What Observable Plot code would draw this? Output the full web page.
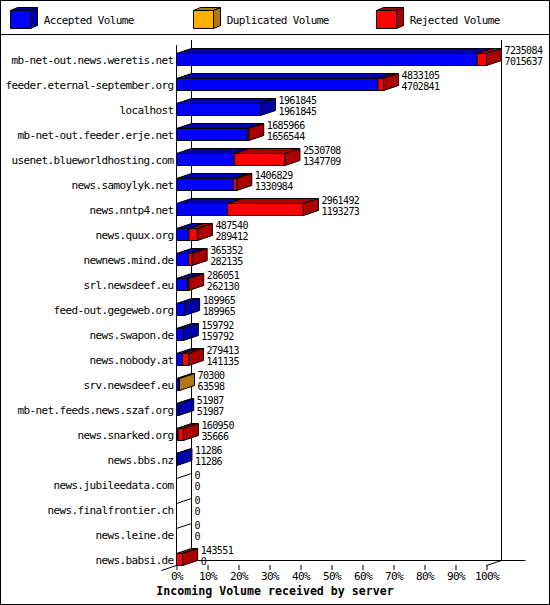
<!DOCTYPE html>
<html>
<head>
<meta charset="utf-8">
<script src="https://cdn.jsdelivr.net/npm/d3@7"></script>
<script src="https://cdn.jsdelivr.net/npm/@observablehq/plot@0.6"></script>
<style>
  html, body { margin: 0; padding: 0; background: #fff; }
  #wrap { position: relative; width: 550px; height: 605px; overflow: hidden; font-family: "DejaVu Sans Mono", monospace; }
  #frame { position: absolute; left: 0; top: 0; width: 550px; height: 605px; box-sizing: border-box; border: 1px solid #000; pointer-events: none; z-index: 5; }
  #legend { position: absolute; left: 0; top: 0; }
  #sep { position: absolute; left: 0; top: 34px; width: 550px; height: 1px; background: #000; }
  #chart { position: absolute; left: 1px; top: 35px; }
  #chart text { letter-spacing: -0.62px; }
  #caption { position: absolute; left: 0; top: 584px; width: 550px; text-align: center; font-weight: bold; font-size: 11.6px; line-height: 14px; font-family: "DejaVu Sans Mono", monospace; color: #000; }
</style>
</head>
<body>
<div id="wrap">
  <div id="legend"></div>
  <div id="sep"></div>
  <div id="chart"></div>
  <div id="caption">Incoming Volume received by server</div>
  <div id="frame"></div>
</div>
<script>
// ---- data ----
const servers = [
  "mb-net-out.news.weretis.net",
  "feeder.eternal-september.org",
  "localhost",
  "mb-net-out.feeder.erje.net",
  "usenet.blueworldhosting.com",
  "news.samoylyk.net",
  "news.nntp4.net",
  "news.quux.org",
  "newnews.mind.de",
  "srl.newsdeef.eu",
  "feed-out.gegeweb.org",
  "news.swapon.de",
  "news.nobody.at",
  "srv.newsdeef.eu",
  "mb-net.feeds.news.szaf.org",
  "news.snarked.org",
  "news.bbs.nz",
  "news.jubileedata.com",
  "news.finalfrontier.ch",
  "news.leine.de",
  "news.babsi.de"
];
const totalVolume = [7235084, 4833105, 1961845, 1685966, 2530708, 1406829, 2961492, 487540, 365352, 286051, 189965, 159792, 279413, 70300, 51987, 160950, 11286, 0, 0, 0, 143551];
const acceptedVolume = [7015637, 4702841, 1961845, 1656544, 1347709, 1330984, 1193273, 289412, 282135, 262130, 189965, 159792, 141135, 63598, 51987, 35666, 11286, 0, 0, 0, 0];
const duplicatedVolume = [0, 0, 0, 0, 0, 0, 0, 0, 0, 0, 0, 0, 0, 6702, 0, 0, 0, 0, 0, 0, 0];
const seriesNames = ["Accepted Volume", "Duplicated Volume", "Rejected Volume"];
const frontColors = ["#0000ff", "#ffb000", "#ff0000"];
const darkColors = ["#0000aa", "#b07810", "#aa0000"];
const tickPct = [0, 10, 20, 30, 40, 50, 60, 70, 80, 90, 100];
const axisTitle = "Incoming Volume received by server";

// ---- derived tables ----
const maxTotal = d3.max(totalVolume);
const pct = v => v / maxTotal * 100;
const rows = servers.map((s, i) => ({server: s, total: totalVolume[i], accepted: acceptedVolume[i], duplicated: duplicatedVolume[i]}));
const segments = [];
rows.forEach(r => {
  const bounds = [0, r.accepted, r.accepted + r.duplicated, r.total];
  for (let k = 0; k < 3; k++) {
    if (bounds[k + 1] > bounds[k]) segments.push({server: r.server, a: pct(bounds[k]), b: pct(bounds[k + 1]), k});
  }
});
const emptyRows = rows.filter(r => r.total === 0);

const DX = 15, DY = 5; // 3D depth in pixels

// ---- legend ----
(function legend() {
  const svg = d3.create("svg").attr("width", 550).attr("height", 34)
    .style("font-family", '"DejaVu Sans Mono", monospace').style("font-size", "11px").style("letter-spacing", "-0.62px");
  seriesNames.forEach((name, i) => {
    const x = Math.floor(10 + i * 550 / 3) + 0.5, y = 10.5, w = 20, h = 18, dx = 7, dy = 3;
    const g = svg.append("g").attr("stroke", "#000");
    g.append("polygon").attr("fill", frontColors[i]).attr("points", `${x},${y} ${x + w},${y} ${x + w},${y + h} ${x},${y + h}`);
    g.append("polygon").attr("fill", darkColors[i]).attr("points", `${x},${y} ${x + dx},${y - dy} ${x + w + dx},${y - dy} ${x + w},${y}`);
    g.append("polygon").attr("fill", darkColors[i]).attr("points", `${x + w},${y} ${x + w + dx},${y - dy} ${x + w + dx},${y + h - dy} ${x + w},${y + h}`);
    svg.append("text").attr("x", x + 33.3).attr("y", 24).attr("fill", "#000").text(name);
  });
  document.getElementById("legend").append(svg.node());
})();

// ---- 3D helpers drawn through Plot scales ----
function frame3d(index, scales) {
  const x = scales.x, y = scales.y;
  const bw = y.bandwidth();
  const yTop = y.range()[0];
  const yFloor = y(servers[servers.length - 1]) + bw;
  const x0 = x(0), x1 = x(100);
  const g = d3.create("svg:g").attr("stroke", "#000").attr("fill", "none");
  const line = pts => g.append("polyline").attr("points", pts.map(p => p.join(",")).join(" "));
  line([[x0, yTop], [x0, yFloor]]);
  line([[x0 + DX, yTop - DY], [x0 + DX, yFloor - DY]]);
  line([[x1 + DX, yTop - DY], [x1 + DX, yFloor - DY]]);
  line([[x0 + DX, yFloor - DY], [x1 + DX + 24, yFloor - DY]]);
  line([[x0 - DX, yFloor + DY], [x0 + DX, yFloor - DY]]);
  line([[x1, yFloor], [x1 + DX, yFloor - DY]]);
  return g.node();
}

function faces3d(index, scales) {
  const x = scales.x, y = scales.y;
  const bw = y.bandwidth();
  const g = d3.create("svg:g").attr("stroke", "#000");
  const poly = (pts, fill) => g.append("polygon").attr("fill", fill).attr("points", pts.map(p => p.join(",")).join(" "));
  rows.forEach(r => {
    const y0 = y(r.server), y1 = y0 + bw;
    const segs = segments.filter(s => s.server === r.server);
    if (segs.length === 0) return;
    segs.forEach(s => {
      const xa = x(s.a), xb = x(s.b);
      poly([[xa, y0], [xb, y0], [xb + DX, y0 - DY], [xa + DX, y0 - DY]], darkColors[s.k]);
    });
    const last = segs[segs.length - 1];
    const xe = x(last.b);
    poly([[xe, y0], [xe + DX, y0 - DY], [xe + DX, y1 - DY], [xe, y1]], darkColors[last.k]);
  });
  return g.node();
}

// empty rows: only the left edge of the flat top face
function emptyEdges(index, scales) {
  const x = scales.x, y = scales.y;
  const g = d3.create("svg:g");
  emptyRows.forEach(r => {
    const y0 = y(r.server);
    g.append("path")
      .attr("d", `M${x(0)},${y0}L${x(0) + DX},${y0 - DY}`)
      .attr("stroke", "#000").attr("stroke-width", 1).attr("fill", "none");
  });
  return g.node();
}

const chart = Plot.plot({
  width: 548,
  height: 548,
  marginLeft: 175.5,
  marginRight: 0,
  marginTop: 0,
  marginBottom: 18,
  style: {fontFamily: '"DejaVu Sans Mono", monospace', fontSize: "11px", background: "transparent", color: "#000"},
  x: {domain: [0, 100], range: [175.5, 485.5]},
  y: {type: "band", domain: servers, range: [10, 539], paddingInner: 0.52, paddingOuter: 0.34, round: false},
  color: {type: "identity"},
  marks: [
    frame3d,
    Plot.barX(segments, {x1: "a", x2: "b", y: "server", fill: d => frontColors[d.k], stroke: "#000", strokeWidth: 1}),
    faces3d,
    emptyEdges,
    Plot.axisY({tickSize: 0, tickPadding: 3.5, label: null, fontSize: 11}),
    Plot.axisX({ticks: tickPct, tickFormat: d => d + "%", tickSize: 5, tickPadding: 1.8, label: null, fontSize: 11}),
    Plot.text(rows, {x: d => pct(d.total), y: "server", text: d => String(d.total), dx: 17.5, dy: -8.8, textAnchor: "start", fontSize: 10, fill: "#000"}),
    Plot.text(rows, {x: d => pct(d.total), y: "server", text: d => String(d.accepted), dx: 17.5, dy: 2.2, textAnchor: "start", fontSize: 10, fill: "#000"})
  ]
});
document.getElementById("chart").append(chart);
document.getElementById("caption").textContent = axisTitle;
</script>
</body>
</html>
